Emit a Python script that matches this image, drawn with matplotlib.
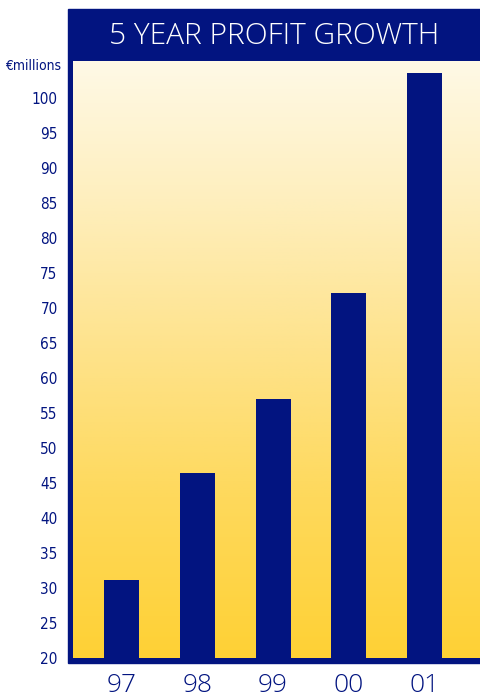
import numpy as np
import matplotlib
matplotlib.use("Agg")
from matplotlib import pyplot as plt
from matplotlib.colors import LinearSegmentedColormap
from matplotlib.patches import Rectangle

# data
years = ["97", "98", "99", "00", "01"]
profit = [31.1, 46.4, 57.0, 72.1, 103.6]
y_ticks = list(range(20, 101, 5))

NAVY = "#021480"
W, H = 480, 700

fig = plt.figure(figsize=(W / 100, H / 100), dpi=100)
fig.patch.set_facecolor("white")

# navy frame + title box behind the plot area
fig.patches.append(Rectangle((68 / W, 1 - 663 / H), (W - 68) / W, (663 - 9) / H,
                             transform=fig.transFigure, color=NAVY, zorder=-5))
fig.text((68 + W) / 2 / W, 1 - 36 / H, "5 YEAR PROFIT GROWTH", color="white",
         ha="center", va="center", fontsize=21.5, weight="light",
         family=["Open Sans", "DejaVu Sans"])

ax = fig.add_axes([73 / W, 1 - 658 / H, (W - 73) / W, (658 - 61) / H])
ax.set_zorder(1)
ax.set_xlim(-0.64, 4.73)
ax.set_ylim(20, 105.3)

# cream to gold background
cmap = LinearSegmentedColormap.from_list(
    "bg", [(0, "#FFD135"), (0.27, "#FED95C"), (0.52, "#FEE38C"),
           (0.77, "#FEEFBE"), (1, "#FFF9E6")])
grad = np.linspace(0, 1, 256).reshape(-1, 1)
ax.imshow(grad, extent=[-0.64, 4.73, 20, 105.3], origin="lower", aspect="auto",
          cmap=cmap, zorder=0)

x = np.arange(len(years))
ax.bar(x, np.array(profit) - 20, bottom=20, width=0.46, color=NAVY, zorder=2)

for s in ax.spines.values():
    s.set_visible(False)

ax.set_yticks(y_ticks)
ax.set_yticklabels([str(v) for v in y_ticks], color=NAVY, fontsize=11,
                   family="DejaVu Sans", stretch="condensed")
ax.tick_params(axis="y", length=0, pad=11)
ax.set_xticks(x)
ax.set_xticklabels(years, color=NAVY, fontsize=19, weight="light",
                   family=["Open Sans", "DejaVu Sans"])
ax.tick_params(axis="x", length=0, pad=11)

fig.text(61 / W, 1 - 66 / H, "€millions", color=NAVY, ha="right", va="center",
         fontsize=10, family="DejaVu Sans", stretch="condensed")

fig.savefig("out.png", dpi=100)
